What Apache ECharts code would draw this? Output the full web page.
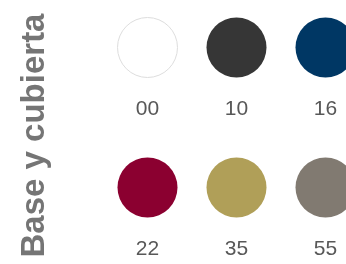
<!DOCTYPE html>
<html>
<head>
<meta charset="utf-8">
<script src="https://cdn.jsdelivr.net/npm/echarts@6/dist/echarts.min.js"></script>
<style>
  html, body { margin: 0; padding: 0; background: #fff; }
  #main { width: 346px; height: 264px; }
</style>
</head>
<body>
<div id="main"></div>
<script>
// swatch codes and colours, laid out in a 3 x 2 grid
var codes = ['00', '10', '16', '22', '35', '55'];
var colors = ['#ffffff', '#363636', '#003764', '#8b0030', '#b09f58', '#817a71'];
var cols = [0, 1, 2, 0, 1, 2];
var rows = [0, 0, 0, 1, 1, 1];
var heading = 'Base y cubierta';

var myChart = echarts.init(document.getElementById('main'));

var data = codes.map(function (c, i) {
  return {
    value: [cols[i], rows[i]],
    name: c,
    itemStyle: {
      color: colors[i],
      opacity: 1,
      borderColor: colors[i] === '#ffffff' ? '#dddddd' : colors[i],
      borderWidth: colors[i] === '#ffffff' ? 1 : 0
    }
  };
});

myChart.setOption({
  animation: false,
  grid: { left: 147.5, top: 47.5, width: 178, height: 140 },
  xAxis: { type: 'value', min: 0, max: 2, show: false },
  yAxis: { type: 'value', min: 0, max: 1, inverse: true, show: false },
  graphic: [{
    type: 'text',
    x: 35,
    y: 135.5,
    rotation: Math.PI / 2,
    style: {
      text: heading,
      font: 'bold 33px "Liberation Sans", Arial, sans-serif',
      fill: '#757575',
      textAlign: 'center',
      textVerticalAlign: 'middle'
    }
  }],
  series: [{
    type: 'scatter',
    symbol: 'circle',
    symbolSize: 60,
    data: data,
    label: {
      show: true,
      position: 'bottom',
      distance: 21,
      formatter: '{b}',
      fontSize: 21,
      color: '#585858',
      fontFamily: '"Liberation Sans", Arial, sans-serif'
    },
    emphasis: { disabled: true }
  }]
});
</script>
</body>
</html>
